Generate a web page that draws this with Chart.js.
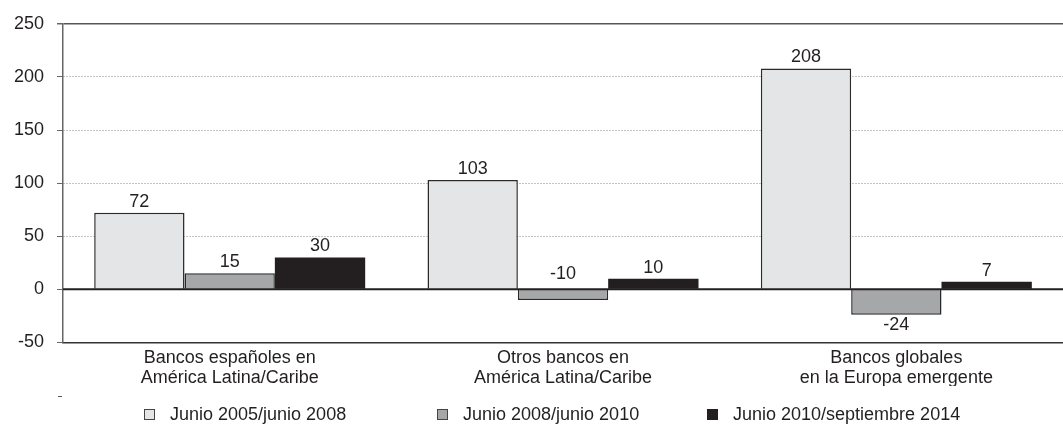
<!DOCTYPE html>
<html>
<head>
<meta charset="utf-8">
<script src="https://cdn.jsdelivr.net/npm/chart.js@4.4.1/dist/chart.umd.min.js"></script>
<style>
  html, body { margin: 0; padding: 0; background: #fff; }
  #wrap { width: 1063px; height: 425px; position: relative; }
</style>
</head>
<body>
<div id="wrap"><canvas id="c" width="1063" height="425"></canvas></div>
<script>
// Bank groups on the x axis (two-line labels)
const categories = [
  ['Bancos españoles en', 'América Latina/Caribe'],
  ['Otros bancos en', 'América Latina/Caribe'],
  ['Bancos globales', 'en la Europa emergente']
];
// Series names
const seriesNames = [
  'Junio 2005/junio 2008',
  'Junio 2008/junio 2010',
  'Junio 2010/septiembre 2014'
];
// Growth per period (%)
const period1 = [72, 103, 208];
const period2 = [15, -10, -24];
const period3 = [30, 10, 7];
// Y axis ticks
const yTicks = [-50, 0, 50, 100, 150, 200, 250];

const TEXT = '#231f20';
const FONT = '"Liberation Sans", Arial, sans-serif';
const FILLS = ['#e4e5e6', '#a6a7a9', '#231f20'];
const LEGEND_X = [144, 437, 707];

// value labels, zero line and the bottom legend
const overlay = {
  id: 'overlay',
  afterDatasetsDraw(chart) {
    const ctx = chart.ctx;
    const y0 = chart.scales.y.getPixelForValue(0);
    const a = chart.chartArea;
    ctx.save();
    // zero line over the bars
    ctx.strokeStyle = '#231f20';
    ctx.lineWidth = 2;
    ctx.beginPath();
    ctx.moveTo(a.left, y0);
    ctx.lineTo(a.right, y0);
    ctx.stroke();

    ctx.font = '18px ' + FONT;
    ctx.fillStyle = TEXT;
    ctx.textAlign = 'center';
    chart.data.datasets.forEach((ds, di) => {
      const meta = chart.getDatasetMeta(di);
      meta.data.forEach((bar, i) => {
        const v = ds.data[i];
        let y;
        if (v >= 0) {
          ctx.textBaseline = 'bottom';
          y = bar.y - 2;
        } else if (bar.y - y0 < 20) {
          ctx.textBaseline = 'bottom';
          y = y0 - 6;
        } else {
          ctx.textBaseline = 'top';
          y = bar.y + 1;
        }
        ctx.fillText(String(v), bar.x, y);
      });
    });

    // small stray tick under the axis
    ctx.strokeStyle = '#555';
    ctx.lineWidth = 1;
    ctx.beginPath();
    ctx.moveTo(a.left - 5, 396.5);
    ctx.lineTo(a.left - 1, 396.5);
    ctx.stroke();

    // legend
    const ly = 415;
    ctx.textAlign = 'left';
    ctx.textBaseline = 'middle';
    seriesNames.forEach((name, i) => {
      const x = LEGEND_X[i];
      ctx.fillStyle = FILLS[i];
      ctx.fillRect(x, ly - 6, 11, 11);
      ctx.strokeStyle = i === 2 ? '#231f20' : '#444';
      ctx.lineWidth = 1;
      ctx.strokeRect(x + 0.5, ly - 5.5, 10, 10);
      ctx.fillStyle = TEXT;
      ctx.fillText(name, x + 26, ly);
    });
    ctx.restore();
  }
};

new Chart(document.getElementById('c'), {
  type: 'bar',
  data: {
    labels: categories,
    datasets: [
      { label: seriesNames[0], data: period1, backgroundColor: FILLS[0], borderColor: '#2a2a2a', borderWidth: 1.5 },
      { label: seriesNames[1], data: period2, backgroundColor: FILLS[1], borderColor: '#2a2a2a', borderWidth: 1.5 },
      { label: seriesNames[2], data: period3, backgroundColor: FILLS[2], borderColor: FILLS[2], borderWidth: 0 }
    ]
  },
  options: {
    responsive: false,
    animation: false,
    devicePixelRatio: 1,
    layout: { padding: { top: 20, right: 0, left: 1, bottom: 39 } },
    datasets: { bar: { categoryPercentage: 0.813, barPercentage: 1 } },
    scales: {
      x: {
        grid: { display: false },
        border: { display: true, color: '#333', width: 1.5 },
        ticks: { color: TEXT, font: { family: FONT, size: 18, lineHeight: 1.1 }, padding: -2, maxRotation: 0 }
      },
      y: {
        min: -50, max: 250,
        afterBuildTicks(scale) { scale.ticks = yTicks.map(v => ({ value: v })); },
        grid: {
          color: c => (c.tick && c.tick.value === 250) ? '#555' : (c.tick && c.tick.value === 0 ? '#231f20' : '#888'),
          lineWidth: c => (c.tick && c.tick.value === 250) ? 1.5 : 1,
          tickLength: 6,
          tickColor: '#666'
        },
        border: {
          display: true, color: '#666', width: 1.5,
          dash: c => (c.tick && (c.tick.value === 250 || c.tick.value === 0 || c.tick.value === -50)) ? [] : [1, 2]
        },
        ticks: { color: TEXT, font: { family: FONT, size: 18 }, padding: 13 }
      }
    },
    plugins: {
      legend: { display: false },
      tooltip: { enabled: false }
    }
  },
  plugins: [overlay]
});
</script>
</body>
</html>
